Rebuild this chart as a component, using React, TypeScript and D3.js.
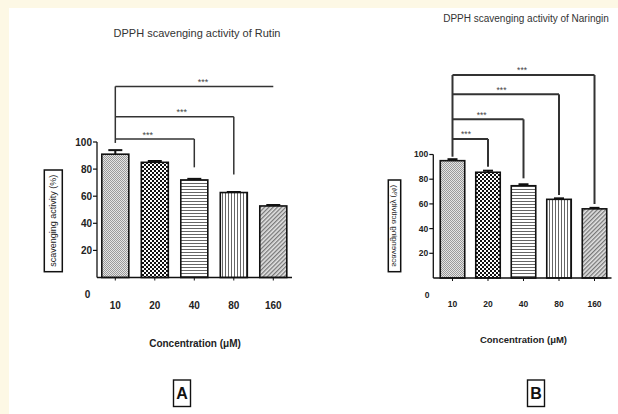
import React from "react";
import * as d3 from "d3";

// concentrations (µM) shared by both panels
const concentrations = ["10", "20", "40", "80", "160"];
const yTicks = [20, 40, 60, 80, 100];

// panel A - Rutin
const rutinMeans = [91, 85, 72, 62.7, 52.8];
const rutinErrors = [3, 1, 0.8, 0.4, 0.7];
const rutinCompare = ["40", "80", "160"];
const rutinBracketLevels = [102.2, 118.7, 141];
const rutinBracketEnds = [81.3, 76, null];
const rutinBracketStart = 99.3;
const rutinStarPos = [0.41, 0.56, 0.555];

// panel B - Naringin
const naringinMeans = [95, 85.6, 74.7, 63.7, 56];
const naringinErrors = [1.2, 1.3, 1.2, 0.8, 0.8];
const naringinCompare = ["20", "40", "80", "160"];
const naringinBracketLevels = [112.6, 128.5, 148.7, 164.4];
const naringinBracketEnds = [90.1, 80.7, 67.2, 59.9];
const naringinBracketStart = 98.2;
const naringinStarPos = [0.38, 0.41, 0.46, 0.49];

const FONT = "'Liberation Sans', Arial, sans-serif";
const patterns = ["pFine", "pCheck", "pHoriz", "pVert", "pDiag"];

function Patterns() {
  return (
    <defs>
      <pattern id="pFine" width="2" height="2" patternUnits="userSpaceOnUse">
        <rect width="2" height="2" fill="#e4e4e4" />
        <rect width="1" height="1" fill="#9a9a9a" />
        <rect x="1" y="1" width="1" height="1" fill="#9a9a9a" />
      </pattern>
      <pattern id="pCheck" width="4" height="4" patternUnits="userSpaceOnUse">
        <rect width="4" height="4" fill="#fff" />
        <rect width="2" height="2" fill="#111" />
        <rect x="2" y="2" width="2" height="2" fill="#111" />
      </pattern>
      <pattern id="pHoriz" width="3" height="3" patternUnits="userSpaceOnUse">
        <rect width="3" height="3" fill="#fff" />
        <rect width="3" height="1" fill="#666" />
      </pattern>
      <pattern id="pVert" width="3" height="3" patternUnits="userSpaceOnUse">
        <rect width="3" height="3" fill="#fff" />
        <rect width="1" height="3" fill="#666" />
      </pattern>
      <pattern id="pDiag" width="3" height="3" patternUnits="userSpaceOnUse" patternTransform="rotate(45)">
        <rect width="3" height="3" fill="#e4e4e4" />
        <rect width="1.3" height="3" fill="#777" />
      </pattern>
    </defs>
  );
}

type PanelProps = {
  title: string;
  titleX: number;
  titleY: number;
  titleSize: number;
  means: number[];
  errors: number[];
  compare: string[];
  levels: number[];
  ends: (number | null)[];
  start: number;
  starPos: number[];
  starSize: number;
  axisX: number;
  axisRight: number;
  bandRange: [number, number];
  pad: number;
  y0: number;
  y100: number;
  tickSize: number;
  capW: number;
  bracketW: number;
  zeroX: number;
  zeroY: number;
  labelY: number;
  box: [number, number, number, number];
  boxFont: number;
  mirror: boolean;
  xTitleX: number;
  xTitleY: number;
  xTitleSize: number;
  letter: string;
  letterX: number;
};

function Panel(p: PanelProps) {
  const x = d3.scaleBand().domain(concentrations).range(p.bandRange).paddingInner(p.pad).paddingOuter(0);
  const y = d3.scaleLinear().domain([0, 100]).range([p.y0, p.y100]);
  const cx = (c: string) => (x(c) as number) + x.bandwidth() / 2;
  const left = cx(concentrations[0]);
  const topLevel = d3.max(p.levels) as number;
  const [bx, by, bw, bh] = p.box;
  const boxCx = bx + bw / 2;
  const boxCy = by + bh / 2;

  return (
    <g fontFamily={FONT}>
      <text x={p.titleX} y={p.titleY} fontSize={p.titleSize} fill="#333" textAnchor="middle">
        {p.title}
      </text>

      {/* significance brackets */}
      <line x1={left} x2={left} y1={y(p.start)} y2={y(topLevel)} stroke="#333" strokeWidth={p.bracketW} />
      {p.compare.map((c, i) => {
        const end = p.ends[i];
        return (
          <g key={c}>
            <line x1={left} x2={cx(c)} y1={y(p.levels[i])} y2={y(p.levels[i])} stroke="#333" strokeWidth={p.bracketW} />
            {end !== null && (
              <line x1={cx(c)} x2={cx(c)} y1={y(p.levels[i])} y2={y(end)} stroke="#333" strokeWidth={p.bracketW} />
            )}
            <text
              x={left + (cx(c) - left) * p.starPos[i]}
              y={y(p.levels[i]) - 1.5}
              fontSize={p.starSize}
              fill="#444"
              textAnchor="middle"
            >
              ***
            </text>
          </g>
        );
      })}

      {/* bars */}
      {concentrations.map((c, i) => (
        <g key={c}>
          <line x1={cx(c)} x2={cx(c)} y1={y(p.means[i])} y2={y(p.means[i] + p.errors[i])} stroke="#111" strokeWidth={2} />
          <line x1={cx(c) - p.capW / 2} x2={cx(c) + p.capW / 2} y1={y(p.means[i] + p.errors[i])} y2={y(p.means[i] + p.errors[i])} stroke="#111" strokeWidth={2} />
          <rect x={x(c)} y={y(p.means[i])} width={x.bandwidth()} height={y(0) - y(p.means[i])} fill={`url(#${patterns[i]})`} stroke="#111" strokeWidth={1.6} />
        </g>
      ))}

      {/* y axis */}
      <line x1={p.axisX} x2={p.axisX} y1={y(100)} y2={y(0)} stroke="#111" strokeWidth={1.3} />
      {yTicks.map((t) => (
        <g key={t}>
          <line x1={p.axisX - 4} x2={p.axisX} y1={y(t)} y2={y(t)} stroke="#111" strokeWidth={1.2} />
          <text x={p.axisX - 5} y={y(t)} dy="0.35em" fontSize={p.tickSize} fontWeight="bold" fill="#222" textAnchor="end">
            {t}
          </text>
        </g>
      ))}
      <text x={p.zeroX} y={p.zeroY} dy="0.35em" fontSize={p.tickSize} fontWeight="bold" fill="#222" textAnchor="middle">
        0
      </text>

      {/* x axis */}
      <line x1={p.axisX} x2={p.axisRight} y1={y(0)} y2={y(0)} stroke="#111" strokeWidth={1.3} />
      {concentrations.map((c) => (
        <g key={c}>
          <line x1={cx(c)} x2={cx(c)} y1={y(0)} y2={y(0) + 3} stroke="#111" strokeWidth={1} />
          <text x={cx(c)} y={p.labelY} dy="0.35em" fontSize={p.tickSize} fontWeight="bold" fill="#222" textAnchor="middle">
            {c}
          </text>
        </g>
      ))}

      {/* y axis title box */}
      <rect x={bx} y={by} width={bw} height={bh} fill="none" stroke="#111" strokeWidth={1.5} />
      <text
        transform={`translate(${boxCx},${boxCy}) rotate(-90)${p.mirror ? " scale(1,-1)" : ""}`}
        dy="0.35em"
        fontSize={p.boxFont}
        fill="#222"
        textAnchor="middle"
      >
        scavenging activity (%)
      </text>

      <text x={p.xTitleX} y={p.xTitleY} dy="0.35em" fontSize={p.xTitleSize} fontWeight="bold" fill="#222" textAnchor="middle">
        Concentration (μM)
      </text>

      <rect x={p.letterX - 8.5} y={380} width={17} height={26.5} fill="none" stroke="#111" strokeWidth={1.4} />
      <text x={p.letterX} y={393.5} dy="0.35em" fontSize={16} fontWeight="bold" fill="#111" textAnchor="middle">
        {p.letter}
      </text>
    </g>
  );
}

export default function App() {
  return (
    <svg width={618} height={414} style={{ position: "absolute", left: 0, top: 0, background: "#fff" }}>
      <Patterns />
      <rect x={0} y={0} width={618} height={8} fill="#fdf8e5" />
      <rect x={0} y={0} width={9} height={414} fill="#fdf8e5" />
      <Panel
        title="DPPH scavenging activity of Rutin"
        titleX={197}
        titleY={37}
        titleSize={11}
        means={rutinMeans}
        errors={rutinErrors}
        compare={rutinCompare}
        levels={rutinBracketLevels}
        ends={rutinBracketEnds}
        start={rutinBracketStart}
        starPos={rutinStarPos}
        starSize={9}
        axisX={97}
        axisRight={292}
        bandRange={[101.8, 286.8]}
        pad={0.316}
        y0={277.5}
        y100={142}
        tickSize={10}
        capW={14}
        bracketW={1.5}
        zeroX={87.5}
        zeroY={294}
        labelY={305}
        box={[44.3, 170, 18, 101.7]}
        boxFont={9}
        mirror={false}
        xTitleX={195}
        xTitleY={343.5}
        xTitleSize={10}
        letter="A"
        letterX={182}
      />
      <Panel
        title="DPPH scavenging activity of Naringin"
        titleX={526}
        titleY={22}
        titleSize={10}
        means={naringinMeans}
        errors={naringinErrors}
        compare={naringinCompare}
        levels={naringinBracketLevels}
        ends={naringinBracketEnds}
        start={naringinBracketStart}
        starPos={naringinStarPos}
        starSize={8.5}
        axisX={433.3}
        axisRight={611.5}
        bandRange={[440.25, 606.75]}
        pad={0.31}
        y0={278}
        y100={154.5}
        tickSize={8.5}
        capW={10}
        bracketW={2}
        zeroX={427}
        zeroY={295}
        labelY={304.5}
        box={[388.3, 180, 12.4, 91.7]}
        boxFont={8}
        mirror={true}
        xTitleX={523.5}
        xTitleY={339.5}
        xTitleSize={9.5}
        letter="B"
        letterX={536}
      />
    </svg>
  );
}
